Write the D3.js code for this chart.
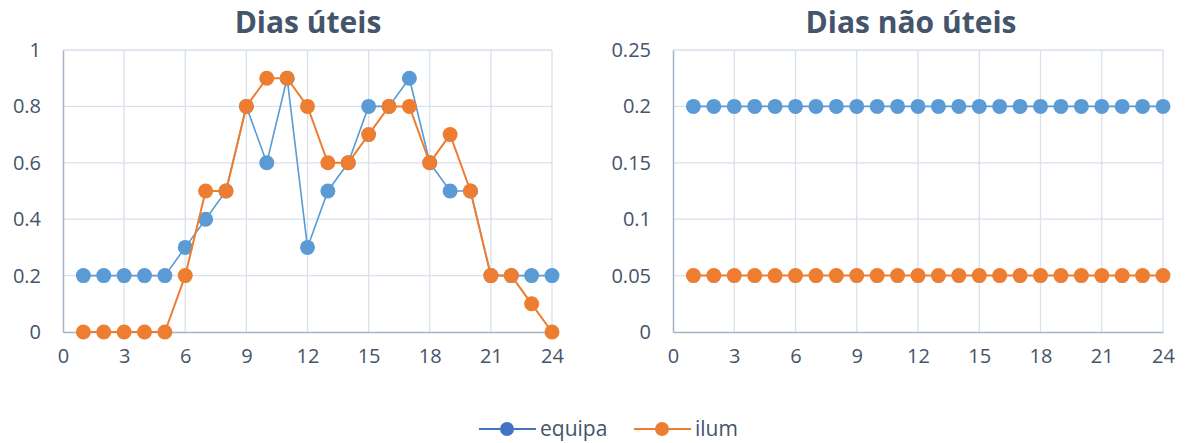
<!DOCTYPE html>
<html><head><meta charset="utf-8">
<script src="https://cdn.jsdelivr.net/npm/d3@7"></script>
<style>body{margin:0;background:#fff;} text{font-family:"Open Sans",Lato,sans-serif;}</style>
</head><body><svg id="c" width="1187" height="443"></svg>
<script>
const hours = d3.range(1, 25);
const equipaUteis = [0.2,0.2,0.2,0.2,0.2,0.3,0.4,0.5,0.8,0.6,0.9,0.3,0.5,0.6,0.8,0.8,0.9,0.6,0.5,0.5,0.2,0.2,0.2,0.2];
const ilumUteis   = [0,0,0,0,0,0.2,0.5,0.5,0.8,0.9,0.9,0.8,0.6,0.6,0.7,0.8,0.8,0.6,0.7,0.5,0.2,0.2,0.1,0];
const equipaNaoUteis = [0.2,0.2,0.2,0.2,0.2,0.2,0.2,0.2,0.2,0.2,0.2,0.2,0.2,0.2,0.2,0.2,0.2,0.2,0.2,0.2,0.2,0.2,0.2,0.2];
const ilumNaoUteis   = [0.05,0.05,0.05,0.05,0.05,0.05,0.05,0.05,0.05,0.05,0.05,0.05,0.05,0.05,0.05,0.05,0.05,0.05,0.05,0.05,0.05,0.05,0.05,0.05];
const xTicks = [0,3,6,9,12,15,18,21,24];
const yTicksUteis = [0,0.2,0.4,0.6,0.8,1];
const yTicksNaoUteis = [0,0.05,0.1,0.15,0.2,0.25];
const seriesNames = ["equipa","ilum"];

const BLUE = "#5B9BD5", ORANGE = "#ED7D31", TXT = "#44546A", GRID = "#D9E1EC", AXIS = "#A5B3C8";
const FONT = "'Open Sans', Lato, sans-serif";
const svg = d3.select("#c");

function panel(x0, x1, title, titleX, yMax, yTicks, eq, il) {
  const x = d3.scaleLinear().domain([0,24]).range([x0, x1]);
  const y = d3.scaleLinear().domain([0,yMax]).range([332, 50]);
  const g = svg.append("g");
  g.append("g").selectAll("line").data(xTicks.slice(1)).join("line")
    .attr("x1", d=>x(d)).attr("x2", d=>x(d)).attr("y1", y(0)).attr("y2", y(yMax))
    .attr("stroke", GRID).attr("stroke-width", 1.3);
  g.append("g").selectAll("line").data(yTicks.slice(1)).join("line")
    .attr("x1", x(0)).attr("x2", x(24)).attr("y1", d=>y(d)).attr("y2", d=>y(d))
    .attr("stroke", GRID).attr("stroke-width", 1.3);
  const ax = g.append("g").attr("transform", `translate(0,${y(0)})`)
    .call(d3.axisBottom(x).tickValues(xTicks).tickSize(0).tickPadding(17).tickFormat(d3.format("d")));
  const ay = g.append("g").attr("transform", `translate(${x(0)},0)`)
    .call(d3.axisLeft(y).tickValues(yTicks).tickSize(0).tickPadding(22).tickFormat(d3.format("")));
  [ax, ay].forEach(a => {
    a.select(".domain").attr("stroke", AXIS).attr("stroke-width", 1.5);
    a.selectAll("text").attr("fill", TXT).style("font-size", "20px").style("font-family", FONT);
  });
  g.append("text").attr("x", titleX).attr("y", 33).attr("text-anchor", "middle")
    .attr("fill", TXT).style("font-size", "30px").style("font-weight", "bold").text(title);
  const line = d3.line().x((d,i)=>x(hours[i])).y(d=>y(d));
  [[eq, BLUE, 1.6], [il, ORANGE, 2]].forEach(([vals, col, w]) => {
    g.append("path").datum(vals).attr("d", line).attr("fill", "none").attr("stroke", col).attr("stroke-width", w);
    g.append("g").selectAll("circle").data(vals).join("circle")
      .attr("cx", (d,i)=>x(hours[i])).attr("cy", d=>y(d)).attr("r", 7.5).attr("fill", col);
  });
}

panel(63, 552, "Dias úteis", 308, 1, yTicksUteis, equipaUteis, ilumUteis);
panel(673, 1163, "Dias não úteis", 911, 0.25, yTicksNaoUteis, equipaNaoUteis, ilumNaoUteis);

const leg = [{name: seriesNames[0], col: "#4472C4", x: 479}, {name: seriesNames[1], col: ORANGE, x: 634}];
leg.forEach(l => {
  const g = svg.append("g");
  g.append("line").attr("x1", l.x).attr("x2", l.x + 57).attr("y1", 429).attr("y2", 429).attr("stroke", l.col).attr("stroke-width", 2);
  g.append("circle").attr("cx", l.x + 28).attr("cy", 429).attr("r", 7).attr("fill", l.col);
  g.append("text").attr("x", l.x + 61).attr("y", 436).attr("fill", TXT).style("font-size", "21px").style("font-family", FONT).text(l.name);
});
</script></body></html>
